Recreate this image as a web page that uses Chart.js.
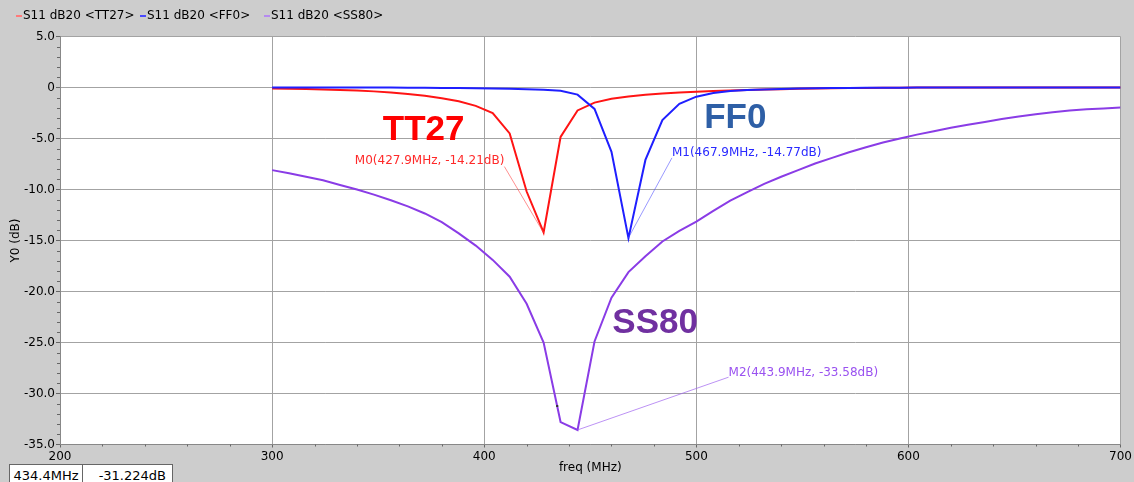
<!DOCTYPE html>
<html>
<head>
<meta charset="utf-8">
<script src="https://cdn.jsdelivr.net/npm/chart.js@4.4.1/dist/chart.umd.min.js"></script>
<style>
  html, body { margin: 0; padding: 0; background: #cdcdcd; }
  #wrap { position: relative; width: 1134px; height: 482px; overflow: hidden; font-family: 'DejaVu Sans', sans-serif; }
  #chart { position: absolute; left: 0; top: 0; }
  .legend { position: absolute; top: 8px; height: 14px; line-height: 14px; font-size: 12px; color: #000; white-space: nowrap; }
  .legend i { display: inline-block; width: 6px; height: 2px; margin-right: 1px; vertical-align: middle; }
  .status { position: absolute; top: 464px; height: 24px; background: #fff; border: 1px solid #666; font-size: 13px; line-height: 18px; padding-top: 2px; box-sizing: border-box; color: #000; }
</style>
</head>
<body>
<div id="wrap">
  <canvas id="chart" width="1134" height="482"></canvas>
  <div class="legend" style="left:16px"><i style="background:#ff7a7a"></i>S11 dB20 &lt;TT27&gt;</div>
  <div class="legend" style="left:140px"><i style="background:#4a4aff"></i>S11 dB20 &lt;FF0&gt;</div>
  <div class="legend" style="left:264px"><i style="background:#b58af0"></i>S11 dB20 &lt;SS80&gt;</div>
  <div class="status" style="left:9px; width:74px; text-align:center;">434.4MHz</div>
  <div class="status" style="left:82px; width:91px; text-align:right; padding-right:6px;">-31.224dB</div>
</div>
<script>
// frequency sweep (MHz)
const freqMHz = [300, 308, 316, 324, 332, 340, 348, 356, 364, 372, 380, 388, 396, 404, 412, 420, 428,
  436, 444, 452, 460, 468, 476, 484, 492, 500, 508, 516, 524, 532, 540, 548, 556, 564, 572, 580,
  588, 596, 604, 612, 620, 628, 636, 644, 652, 660, 668, 676, 684, 692, 700];

// S11 dB20 per corner
const tt27 = [-0.10, -0.12, -0.15, -0.19, -0.24, -0.30, -0.38, -0.50, -0.64, -0.82, -1.05, -1.35, -1.80,
  -2.50, -4.50, -10.20, -14.21, -4.85, -2.25, -1.48, -1.10, -0.88, -0.72, -0.60, -0.50, -0.42, -0.35,
  -0.29, -0.24, -0.20, -0.16, -0.13, -0.10, -0.08, -0.06, -0.04, -0.03, -0.02, 0, 0, 0, 0, 0, 0, 0,
  0, 0, 0, 0, 0, 0];
const ff0 = [0, 0, 0, 0, 0, 0, -0.01, -0.01, -0.02, -0.03, -0.04, -0.05, -0.07, -0.09, -0.12, -0.16,
  -0.22, -0.32, -0.70, -2.10, -6.30, -14.77, -7.10, -3.20, -1.60, -0.90, -0.55, -0.35, -0.25, -0.19,
  -0.14, -0.10, -0.07, -0.05, -0.04, -0.03, -0.02, -0.02, -0.01, -0.01, 0, 0, 0, 0, 0, 0, 0, 0, 0, 0, 0];
const ss80 = [-8.10, -8.40, -8.75, -9.10, -9.55, -10.00, -10.50, -11.05, -11.65, -12.35, -13.20, -14.30,
  -15.50, -16.90, -18.55, -21.20, -25.00, -32.80, -33.58, -24.90, -20.60, -18.10, -16.55, -15.10,
  -14.05, -13.15, -12.10, -11.10, -10.25, -9.45, -8.75, -8.10, -7.45, -6.90, -6.35, -5.85, -5.40,
  -5.00, -4.62, -4.28, -3.95, -3.65, -3.38, -3.08, -2.85, -2.62, -2.42, -2.26, -2.13, -2.05, -1.97];

// markers
const markerNames = ['M0', 'M1', 'M2'];
const markerFreq = [427.9, 467.9, 443.9];
const markerDb = [-14.21, -14.77, -33.58];

// cursor readout
const cursorFreq = 434.4;
const cursorDb = -31.224;

const xTicks = [200, 300, 400, 500, 600, 700];
const yTicks = [-35, -30, -25, -20, -15, -10, -5, 0, 5];

const toPoints = (ys) => ys.map((v, i) => ({ x: freqMHz[i], y: v }));

// where each marker label sits (data units) and how it looks
const markerStyle = [
  { color: '#ff2a2a', lead: 'rgba(255,70,70,0.6)', ax: 409.5, ay: -7.75, align: 'right', dy: -6 },
  { color: '#2a2aff', lead: 'rgba(70,70,255,0.55)', ax: 488.5, ay: -6.9, align: 'left', dy: -5 },
  { color: '#9a52f0', lead: 'rgba(160,100,240,0.7)', ax: 515.2, ay: -28.4, align: 'left', dy: -4 }
];

const bigLabels = [
  { text: 'TT27', f: 352.2, db: -5.15, color: '#ff0000' },
  { text: 'FF0', f: 503.7, db: -4.0, color: '#2e5fa6' },
  { text: 'SS80', f: 460.4, db: -24.1, color: '#7030a0' }
];

const plotBackground = {
  id: 'plotBackground',
  beforeDraw(chart) {
    const { ctx, chartArea: a } = chart;
    ctx.save();
    ctx.fillStyle = '#ffffff';
    ctx.fillRect(a.left, a.top, a.right - a.left, a.bottom - a.top);
    ctx.restore();
  }
};

const minorTicks = {
  id: 'minorTicks',
  afterDraw(chart) {
    const { ctx, chartArea: a, scales: { x, y } } = chart;
    ctx.save();
    ctx.strokeStyle = '#666';
    ctx.lineWidth = 1;
    ctx.beginPath();
    for (let v = -34; v < 5; v++) {
      if (v % 5 === 0) continue;
      const py = Math.round(y.getPixelForValue(v)) + 0.5;
      ctx.moveTo(a.left - 3, py);
      ctx.lineTo(a.left, py);
    }
    for (let v = 220; v < 700; v += 20) {
      if (v % 100 === 0) continue;
      const px = Math.round(x.getPixelForValue(v)) + 0.5;
      ctx.moveTo(px, a.bottom);
      ctx.lineTo(px, a.bottom + 2);
    }
    ctx.stroke();
    ctx.restore();
  }
};

const markerLabels = {
  id: 'markerLabels',
  afterDatasetsDraw(chart) {
    const { ctx, scales: { x, y } } = chart;
    ctx.save();
    markerNames.forEach((name, i) => {
      const s = markerStyle[i];
      const mx = x.getPixelForValue(markerFreq[i]);
      const my = y.getPixelForValue(markerDb[i]);
      const lx = x.getPixelForValue(s.ax);
      const ly = y.getPixelForValue(s.ay);
      ctx.strokeStyle = s.lead;
      ctx.lineWidth = 1;
      ctx.beginPath();
      ctx.moveTo(mx, my);
      ctx.lineTo(lx, ly);
      ctx.stroke();
      ctx.font = '12px "DejaVu Sans"';
      ctx.fillStyle = s.color;
      ctx.textAlign = s.align;
      ctx.textBaseline = 'middle';
      ctx.fillText(name + '(' + markerFreq[i] + 'MHz, ' + markerDb[i].toFixed(2) + 'dB)', lx, ly + s.dy);
    });
    bigLabels.forEach(b => {
      ctx.font = 'bold 35px "Liberation Sans"';
      ctx.fillStyle = b.color;
      ctx.textAlign = 'left';
      ctx.textBaseline = 'alphabetic';
      ctx.fillText(b.text, x.getPixelForValue(b.f), y.getPixelForValue(b.db));
    });
    ctx.restore();
  }
};

Chart.defaults.font.family = '"DejaVu Sans", sans-serif';
Chart.defaults.font.size = 12;
Chart.defaults.color = '#000';

new Chart(document.getElementById('chart'), {
  type: 'line',
  data: {
    datasets: [
      {
        label: 'cursor',
        data: [{ x: cursorFreq, y: cursorDb }],
        showLine: false,
        pointStyle: 'rect',
        pointRadius: 1.5,
        pointBackgroundColor: '#333',
        pointBorderWidth: 0,
        order: 0
      },
      {
        label: 'S11 dB20 <FF0>',
        data: toPoints(ff0),
        borderColor: '#1f1fff',
        borderWidth: 2,
        pointRadius: 0,
        tension: 0,
        order: 1
      },
      {
        label: 'S11 dB20 <TT27>',
        data: toPoints(tt27),
        borderColor: '#ff1414',
        borderWidth: 2,
        pointRadius: 0,
        tension: 0,
        order: 2
      },
      {
        label: 'S11 dB20 <SS80>',
        data: toPoints(ss80),
        borderColor: '#8a3ce6',
        borderWidth: 2,
        pointRadius: 0,
        tension: 0,
        order: 3
      }
    ]
  },
  options: {
    responsive: false,
    animation: false,
    layout: { padding: { top: 36.5, right: 12, bottom: 0, left: 0 } },
    plugins: {
      legend: { display: false },
      tooltip: { enabled: false }
    },
    scales: {
      x: {
        type: 'linear',
        min: 200,
        max: 700,
        afterFit: (s) => { s.height = 37.5; },
        afterBuildTicks: (s) => { s.ticks = xTicks.map(v => ({ value: v })); },
        ticks: { padding: 2, maxRotation: 0, callback: (v) => String(v) },
        grid: { color: '#a3a3a3', tickColor: '#666', tickLength: 3 },
        border: { color: '#888' },
        title: { display: true, text: 'freq (MHz)', padding: { top: 0, bottom: 7 } }
      },
      y: {
        type: 'linear',
        min: -35,
        max: 5,
        afterFit: (s) => { s.width = 60; },
        afterBuildTicks: (s) => { s.ticks = yTicks.map(v => ({ value: v })); },
        ticks: { padding: 1, callback: (v) => v === 0 ? '0' : v.toFixed(1) },
        grid: { color: '#a3a3a3', tickColor: '#666', tickLength: 4 },
        border: { color: '#888' },
        title: { display: true, text: 'Y0 (dB)', padding: { top: 9, bottom: 0 } }
      }
    }
  },
  plugins: [plotBackground, minorTicks, markerLabels]
});
</script>
</body>
</html>
